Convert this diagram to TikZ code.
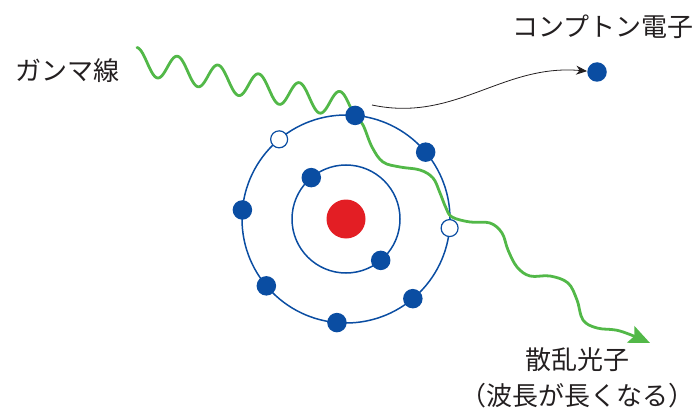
\documentclass[tikz,border=0pt]{standalone}
\usepackage{fontspec}
\newfontfamily\jp{Noto Sans CJK JP}
\usetikzlibrary{arrows.meta,backgrounds}

\definecolor{orbitblue}{HTML}{0A4DA2}
\definecolor{nucred}{HTML}{E31E24}
\definecolor{raygreen}{HTML}{52B848}
\definecolor{inkgray}{HTML}{231F20}

\begin{document}
\begin{tikzpicture}[x=1pt,y=-1pt,
    orbit/.style={draw=orbitblue,line width=1.5pt},
    electron/.style={circle,fill=orbitblue,inner sep=0pt,minimum size=19.5pt},
    hole/.style={circle,draw=orbitblue,fill=white,line width=1.2pt,inner sep=0pt,minimum size=17pt},
    photon/.style={draw=raygreen,line width=2.8pt,line cap=round},
    jtext/.style={font=\jp\fontsize{26}{38}\selectfont,text=inkgray}]

    \useasboundingbox (0,0) rectangle (698,417);

    % nucleus
    \coordinate (nuc) at (346,219);
    \fill[nucred] (nuc) circle (19.5);

    % outer shell, two holes
    \foreach \k/\kind in {0/hole,1/electron,2/electron,3/electron,4/electron,5/hole,6/electron,7/electron}
        \path (nuc) ++({5+45*\k}:104) node[\kind] (o\k) {};
    % inner shell
    \foreach \k in {0,1}
        \path (nuc) ++({50+180*\k}:54) node[electron] (i\k) {};

    % compton electron
    \node[electron] (ce) at (597,72) {};
    \coordinate (kick) at (372,105);
    \draw[-{Stealth[length=11pt,width=9pt]},line width=0.8pt,inkgray] (kick) to[out=-12,in=175] (ce);

    \begin{pgfonlayer}{background}
        % orbits
        \draw[orbit] (nuc) circle (54);
        \draw[orbit] (nuc) circle (104);

        % incoming gamma ray
        \draw[photon] plot[domain=0:5.4,samples=240,variable=\t]
            ({137+40.6*\t},{60.5+8.8*\t-13*cos(360*\t)});

        % scattered photon
        \draw[photon,-{Stealth[length=21pt,width=18pt,inset=4pt]}] plot[smooth,tension=0.6] coordinates {
            (o6.center) (363,125) (372,147) (383,162) (400,167) (420,170) (433,178)
            (440,193) (446,208) (452,217) (470,222) (490,223) (502,233) (508,250)
            (517,267) (530,276) (550,276) (568,283) (577,300) (583,320) (597,328)
            (620,331) (650,343)};
    \end{pgfonlayer}

    % labels
    \node[jtext] (gamma) at (67,71) {ガンマ線};
    \node[jtext] (ctitle) at (603,27) {コンプトン電子};
    \node[jtext,font=\jp\fontsize{26}{36}\selectfont,align=center,inner sep=0pt,text depth=0pt,anchor=south]
        (stitle) at (577,406) {散乱光子\\（波長が長くなる）};
\end{tikzpicture}
\end{document}
